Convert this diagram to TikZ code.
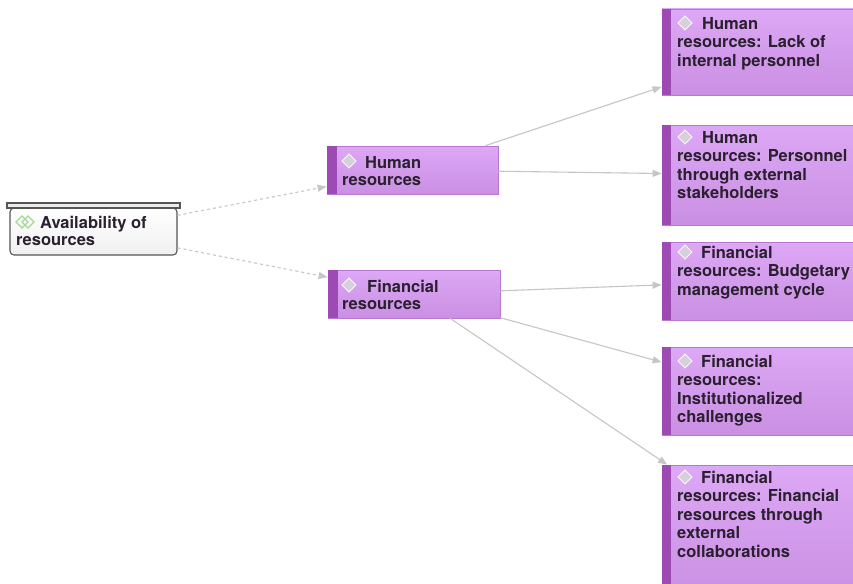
\documentclass[tikz,border=0pt]{standalone}
\usepackage{fontspec}
\setmainfont{TeX Gyre Heros}
\usetikzlibrary{arrows.meta}
\definecolor{pfillA}{HTML}{DDA8F5}
\definecolor{pfillB}{HTML}{CA8FE3}
\definecolor{pborder}{HTML}{B878D0}
\definecolor{pstrip}{HTML}{9E4AB4}
\definecolor{edgegray}{HTML}{C6C6C6}
\definecolor{txt}{HTML}{2A2030}
\definecolor{icongray}{HTML}{D6D0DA}
\definecolor{icongreen}{HTML}{A3D994}
\definecolor{rootdraw}{HTML}{555555}
\newcommand{\topstrut}{\rule{0pt}{13pt}}
\begin{document}
\begin{tikzpicture}[x=1pt,y=-1pt,
  pbox/.style={rectangle, draw=pborder, line width=0.8pt, top color=pfillA, bottom color=pfillB, inner sep=0pt},
  stripfill/.style={fill=pstrip},
  rootbox/.style={rectangle, draw=rootdraw, line width=1.1pt, rounded corners=4pt, top color=white, bottom color=black!6, inner sep=0pt},
  rootbar/.style={draw=rootdraw, line width=1.1pt, fill=black!8},
  ptext/.style={anchor=north west, inner sep=0pt, align=left, text=txt, font=\bfseries\fontsize{16.5}{18.5}\selectfont},
  mtext/.style={anchor=north west, inner sep=0pt, align=left, text=txt, font=\bfseries\fontsize{16.5}{17}\selectfont},
  icon/.style={fill=icongray, draw=white!85!icongray, line width=0.8pt},
  gicon/.style={draw=icongreen, line width=1.4pt},
  edge/.style={draw=edgegray, line width=1.1pt, -{Triangle[length=9pt,width=7pt]}},
  dedge/.style={edge, dash pattern=on 3pt off 3pt}
]
\useasboundingbox (0,0) rectangle (853,583);
\clip (0,0) rectangle (853,583);
\fill[white] (0,0) rectangle (853,583);

% root
\node[rootbox, minimum width=167pt, minimum height=47pt] (root) at (93.5,231.5) {};
\draw[rootbar] (7,203) rectangle (180,208);
\draw[gicon] (16,222) -- (22,216) -- (28,222) -- (22,228) -- cycle;
\draw[gicon] (22,222) -- (28,216) -- (34,222) -- (28,228) -- cycle;
\node[mtext] (troot) at (16,215) {\topstrut\hspace*{24pt}Availability of\\resources};

% middle
\node[pbox, minimum width=171pt, minimum height=48pt] (hr) at (412.5,170) {};
\fill[stripfill] (hr.north west) rectangle ([xshift=10pt]hr.south west);
\node[pbox, minimum width=172pt, minimum height=48pt] (fr) at (414,294) {};
\fill[stripfill] (fr.north west) rectangle ([xshift=10pt]fr.south west);
\fill[icon] (342,161) -- (349,154) -- (356,161) -- (349,168) -- cycle;
\fill[icon] (342,285) -- (349,278) -- (356,285) -- (349,292) -- cycle;
\node[mtext] (thr) at (342,155) {\topstrut\hspace*{23pt}Human\\resources};
\node[mtext] (tfr) at (342,279) {\topstrut\hspace*{25pt}Financial\\resources};

% right column
\node[pbox, minimum width=210pt, minimum height=86pt] (b1) at (767,52) {};
\node[pbox, minimum width=210pt, minimum height=100pt] (b2) at (767,175) {};
\node[pbox, minimum width=210pt, minimum height=78pt] (b3) at (767,281) {};
\node[pbox, minimum width=210pt, minimum height=88pt] (b4) at (767,391) {};
\node[pbox, minimum width=210pt, minimum height=134pt] (b5) at (767,532) {};
\foreach \b in {b1,b2,b3,b4,b5}{
  \fill[stripfill] (\b.north west) rectangle ([xshift=9pt]\b.south west);
}
\foreach \y in {23,137,252,361,477}{
  \fill[icon] (678,\y) -- (685,\y-7) -- (692,\y) -- (685,\y+7) -- cycle;
}
\node[ptext] (t1) at (677,16) {\topstrut\hspace*{25pt}Human\\resources: Lack of\\internal personnel};
\node[ptext] (t2) at (677,130) {\topstrut\hspace*{25pt}Human\\resources: Personnel\\through external\\stakeholders};
\node[ptext] (t3) at (677,245) {\topstrut\hspace*{24pt}Financial\\resources: Budgetary\\management cycle};
\node[ptext] (t4) at (677,354) {\topstrut\hspace*{24pt}Financial\\resources:\\Institutionalized\\challenges};
\node[ptext] (t5) at (677,470) {\topstrut\hspace*{24pt}Financial\\resources: Financial\\resources through\\external\\collaborations};

% edges
\draw[dedge] (root) -- (hr);
\draw[dedge] (root) -- (fr);
\draw[edge] (hr) -- (b1);
\draw[edge] (hr) -- (b2);
\draw[edge] (fr) -- (b3);
\draw[edge] (fr) -- (b4);
\draw[edge] (fr) -- (b5);
\end{tikzpicture}
\end{document}
